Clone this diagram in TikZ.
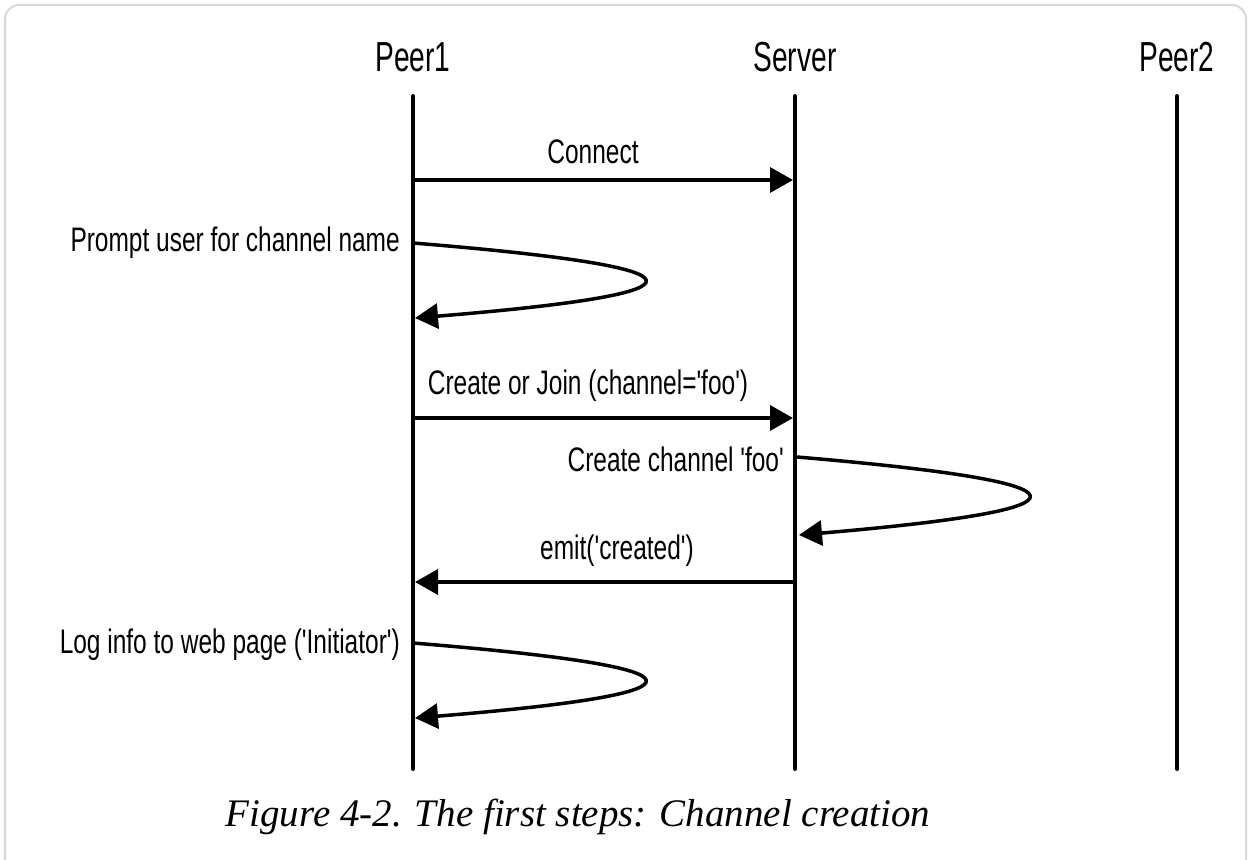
\documentclass[tikz,border=0pt]{standalone}
\usepackage{fontspec}
\setmainfont{Liberation Serif}
\newfontfamily\condfont[FakeStretch=0.72]{Liberation Sans}
\newfontfamily\headfont[FakeStretch=0.67]{Liberation Sans}
\usetikzlibrary{arrows.meta}
\begin{document}
\begin{tikzpicture}[x=1pt,y=-1pt,
  frame/.style={draw=black!15,line width=2pt,rounded corners=14pt},
  lifeline/.style={line width=4pt,line cap=round},
  msg/.style={line width=3.5pt,-{Triangle[length=23pt,width=25pt]}},
  head/.style={font=\headfont\fontsize{42}{44}\selectfont,inner sep=0pt,anchor=center},
  lbl/.style={font=\condfont\fontsize{34}{36}\selectfont,inner sep=0pt},
  captext/.style={font=\itshape\fontsize{39}{42}\selectfont,inner sep=0pt}]
\useasboundingbox (0,0) rectangle (1249,859);
\begin{scope}
\clip (0,0) rectangle (1249,859);
\draw[frame] (5,5) rectangle (1246,900);
\end{scope}
% headers
\node[head] (peer1) at (413,57) {Peer1};
\node[head] (server) at (795,57) {Server};
\node[head] (peer2) at (1177,57) {Peer2};
% lifelines
\coordinate (p1top) at (413,96);
\coordinate (p1bot) at (413,769);
\coordinate (svtop) at (795,96);
\coordinate (svbot) at (795,769);
\coordinate (p2top) at (1177,96);
\coordinate (p2bot) at (1177,769);
\draw[lifeline] (p1top) -- (p1bot);
\draw[lifeline] (svtop) -- (svbot);
\draw[lifeline] (p2top) -- (p2bot);
% Connect
\coordinate (c1a) at (413,180);
\coordinate (c1b) at (793,180);
\draw[msg] (c1a) -- (c1b);
\node[lbl] (connect) at (593,152) {Connect};
% Prompt loop
\coordinate (l1a) at (413,243);
\coordinate (l1b) at (415,318);
\draw[msg] (l1a) .. controls (720,268) and (720,293) .. (l1b);
\node[lbl,anchor=east] (prompt) at (400,243) {Prompt user for channel name};
% Create or Join
\coordinate (c2a) at (413,418);
\coordinate (c2b) at (793,418);
\draw[msg] (c2a) -- (c2b);
\node[lbl] (join) at (588,386) {Create or Join (channel='foo')};
% Create channel loop
\coordinate (l2a) at (797,457);
\coordinate (l2b) at (799,535);
\draw[msg] (l2a) .. controls (1104,483) and (1104,509) .. (l2b);
\node[lbl,anchor=east] (create) at (784,459) {Create channel 'foo'};
% emit
\coordinate (c3a) at (795,582);
\coordinate (c3b) at (415,582);
\draw[msg] (c3a) -- (c3b);
\node[lbl] (emit) at (617,551) {emit('created')};
% Log loop
\coordinate (l3a) at (413,643);
\coordinate (l3b) at (415,718);
\draw[msg] (l3a) .. controls (720,668) and (720,693) .. (l3b);
\node[lbl,anchor=east] (log) at (400,645) {Log info to web page ('Initiator')};
% caption
\node[captext] (caption) at (578,817) {Figure 4-2. The first steps: Channel creation};
\end{tikzpicture}
\end{document}
